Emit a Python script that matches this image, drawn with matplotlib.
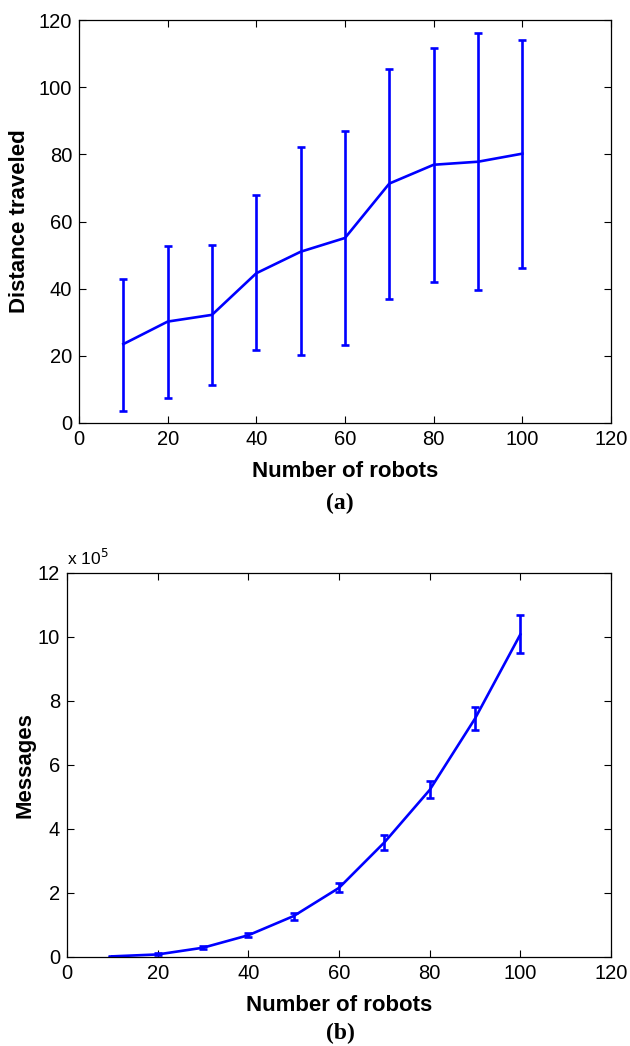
import matplotlib
matplotlib.use("Agg")
import matplotlib.pyplot as plt

# ---- data ----
robots = [10, 20, 30, 40, 50, 60, 70, 80, 90, 100]

dist_mean = [23.5, 30.2, 32.2, 44.6, 51.0, 55.1, 71.3, 76.9, 77.8, 80.2]
dist_upper = [43.0, 52.7, 53.1, 67.8, 82.1, 86.9, 105.4, 111.6, 116.0, 114.1]
dist_lower = [3.7, 7.5, 11.3, 21.6, 20.1, 23.3, 36.9, 42.0, 39.5, 46.3]

msg_mean = [0.02, 0.08, 0.29, 0.68, 1.28, 2.16, 3.58, 5.22, 7.45, 10.08]   # x 1e5
msg_upper = [0.04, 0.11, 0.33, 0.75, 1.39, 2.30, 3.81, 5.49, 7.81, 10.68]
msg_lower = [0.00, 0.05, 0.25, 0.61, 1.15, 2.02, 3.34, 4.96, 7.09, 9.51]

xticks = [0, 20, 40, 60, 80, 100, 120]
dist_yticks = [0, 20, 40, 60, 80, 100, 120]
msg_yticks = [0, 2, 4, 6, 8, 10, 12]

plt.rcParams['font.family'] = ['Liberation Sans', 'DejaVu Sans']

W, H = 630, 1046
fig = plt.figure(figsize=(W / 100, H / 100), dpi=100)

def px_axes(l, t, r, b):
    return fig.add_axes([l / W, 1 - b / H, (r - l) / W, (b - t) / H])

ax1 = px_axes(79, 20, 611, 423)
ax2 = px_axes(67, 573, 611, 957)

blue = (0, 0, 1)

def errs(mean, up, lo):
    return [[m - l for m, l in zip(mean, lo)], [u - m for m, u in zip(mean, up)]]

ax1.errorbar(robots, dist_mean, yerr=errs(dist_mean, dist_upper, dist_lower),
             color=blue, lw=1.9, elinewidth=1.9, capsize=2.6, capthick=1.9)
ax2.errorbar(robots, msg_mean, yerr=errs(msg_mean, msg_upper, msg_lower),
             color=blue, lw=1.9, elinewidth=1.9, capsize=2.6, capthick=1.9)

for ax, yt in ((ax1, dist_yticks), (ax2, msg_yticks)):
    ax.set_xlim(0, 120)
    ax.set_ylim(yt[0], yt[-1])
    ax.set_xticks(xticks)
    ax.set_yticks(yt)
    ax.tick_params(direction='in', top=True, right=True, length=5, width=0.8,
                   labelsize=14.5, pad=5)
    for s in ax.spines.values():
        s.set_linewidth(0.9)
    ax.set_xlabel('Number of robots', fontsize=16, fontweight='bold')

ax1.set_ylabel('Distance traveled', fontsize=16, fontweight='bold')
ax2.set_ylabel('Messages', fontsize=16, fontweight='bold')
ax1.xaxis.set_label_coords(0.5, -0.095)
ax2.xaxis.set_label_coords(0.5, -0.1)
ax1.yaxis.set_label_coords(-0.092, 0.5)
ax2.yaxis.set_label_coords(-0.057, 0.5)

ax2.text(0.0, 1.012, r'x 10$^{5}$', transform=ax2.transAxes, fontsize=12.5,
         ha='left', va='bottom')

fig.text(340 / W, 1 - 503 / H, '(a)', family='Liberation Serif', fontweight='bold',
         fontsize=17, ha='center', va='center')
fig.text(340 / W, 1 - 1033 / H, '(b)', family='Liberation Serif', fontweight='bold',
         fontsize=17, ha='center', va='center')

fig.savefig('out.png', dpi=100)
